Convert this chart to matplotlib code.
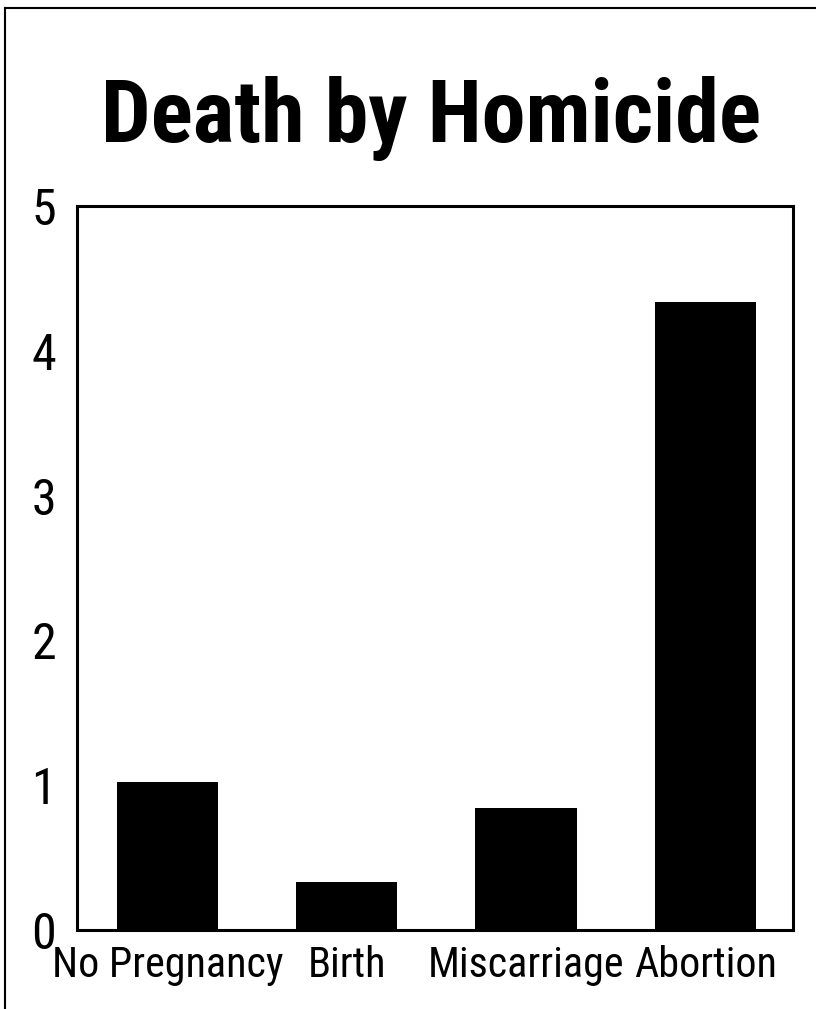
import os
import matplotlib.pyplot as plt
from matplotlib.lines import Line2D
from matplotlib import font_manager
from matplotlib.font_manager import FontProperties

# data
categories = ['No Pregnancy', 'Birth', 'Miscarriage', 'Abortion']
rates = [1.02, 0.33, 0.84, 4.34]
yticks = [0, 1, 2, 3, 4, 5]

# look for a narrow font (arial narrow look), fall back to liberation sans
files = font_manager.findSystemFonts() + [f.fname for f in font_manager.fontManager.ttflist]
bases = {os.path.splitext(os.path.basename(f))[0].lower(): f for f in files}

def find(names):
    for n in names:
        if n.lower() in bases:
            return bases[n.lower()]
    return None

reg_file = find(['LiberationSansNarrow-Regular', 'RobotoCondensed-Regular',
                 'OpenSans_Condensed-Regular', 'NotoSans-Condensed',
                 'DejaVuSansCondensed'])
bold_file = find(['LiberationSansNarrow-Bold', 'RobotoCondensed-Bold',
                  'OpenSans_Condensed-Bold', 'NotoSans-CondensedBold',
                  'DejaVuSansCondensed-Bold'])

def fp(bold, size):
    f = bold_file if bold else reg_file
    if f:
        return FontProperties(fname=f, size=size)
    return FontProperties(family='Liberation Sans', weight='bold' if bold else 'normal', size=size)

fig = plt.figure(figsize=(8.16, 10.09), dpi=100)
ax = fig.add_axes([0.0944, 0.0783, 0.8775, 0.7175])

ax.bar(range(len(categories)), rates, width=0.565, color='black', zorder=1)
ax.set_xlim(-0.505, 3.49)
ax.set_ylim(0, 5)
ax.set_yticks(yticks)
ax.set_xticks(range(len(categories)))
ax.tick_params(length=0)
ax.tick_params(axis='y', pad=15)
ax.tick_params(axis='x', pad=11)
for s in ax.spines.values():
    s.set_linewidth(2.2)
    s.set_zorder(2)

title = fig.text(0.528, 0.8593, 'Death by Homicide', ha='center', va='baseline',
                 fontproperties=fp(True, 60))

# fit title width (~660 px) and label width ("No Pregnancy" ~232 px)
r = fig.canvas.get_renderer()
w = title.get_window_extent(r).width
tsize = 60 * 660 / w
title.set_fontproperties(fp(True, tsize))

probe = fig.text(0, 0, 'No Pregnancy', fontproperties=fp(False, 30))
w = probe.get_window_extent(r).width
lsize = min(30 * 232 / w, 34)
probe.remove()

ax.set_xticklabels(categories, fontproperties=fp(False, lsize))
ax.set_yticklabels([str(t) for t in yticks], fontproperties=fp(False, min(lsize * 1.22, 36)))

# outer frame of the slide
fig.add_artist(Line2D([0.0061, 0.0061], [0, 0.992], color='black', lw=1.5))
fig.add_artist(Line2D([0.0061, 1.0], [0.992, 0.992], color='black', lw=1.5))

fig.savefig('out.png', dpi=100)
